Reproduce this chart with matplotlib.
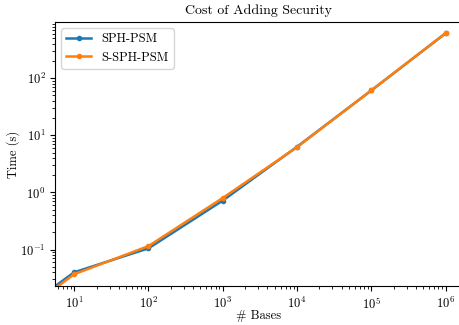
import numpy as np
from matplotlib import pyplot as plt

plt.rcParams['font.family'] = 'serif'
plt.rcParams['font.serif'] = ['cmr10', 'DejaVu Serif']
plt.rcParams['mathtext.fontset'] = 'cm'
plt.rcParams['axes.formatter.use_mathtext'] = True

# numero de bases y tiempos (s)
bases = [1, 10, 100, 1000, 10000, 100000, 1000000]
t_sph = [0.0045, 0.040, 0.105, 0.72, 6.3, 61, 610]
t_ssph = [0.004, 0.037, 0.115, 0.80, 6.2, 61, 615]

fig = plt.figure(figsize=(4.6, 3.25), dpi=100)
ax = fig.add_axes([0.12, 0.12, 0.885, 0.812])

ax.plot(bases, t_sph, '.-', color='#1f77b4', lw=1.8, ms=6, label='SPH-PSM')
ax.plot(bases, t_ssph, '.-', color='#ff7f0e', lw=1.8, ms=6, label='S-SPH-PSM')

ax.set_xscale('log')
ax.set_yscale('log')
ax.set_xlim(5.55, 1.68e6)
ax.set_ylim(0.023, 960)
ax.spines['right'].set_visible(False)

ax.set_title('Cost of Adding Security', fontsize=10)
ax.set_xlabel('# Bases', fontsize=9, labelpad=-1)
ax.set_ylabel('Time (s)', fontsize=9, labelpad=0)
ax.tick_params(labelsize=9)
ax.legend(loc='upper left', fontsize=9)

fig.savefig('out.png', dpi=100)
